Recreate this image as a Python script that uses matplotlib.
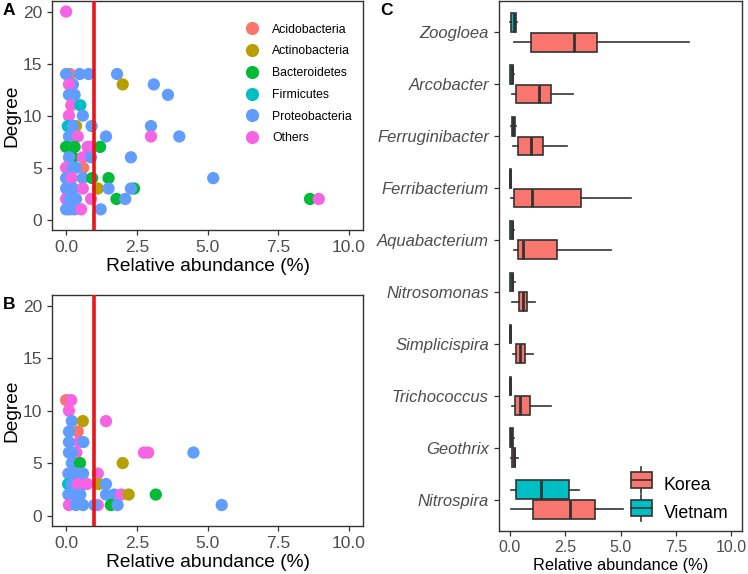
import matplotlib
matplotlib.use("Agg")
import matplotlib.pyplot as plt
from matplotlib.lines import Line2D
from matplotlib.patches import Rectangle
from matplotlib.legend_handler import HandlerBase

plt.rcParams['font.family'] = ['Liberation Sans', 'DejaVu Sans']

# phylum colours (ggplot hue)
phyla = ["Acidobacteria", "Actinobacteria", "Bacteroidetes", "Firmicutes", "Proteobacteria", "Others"]
phylum_colors = ["#F8766D", "#B79F00", "#00BA38", "#00BFC4", "#619CFF", "#F564E3"]

# panel A: relative abundance, degree, phylum
a_abund = [0.0,
           0.13, 0.0, 0.48, 0.8, 1.8,
           0.24, 0.1, 2.0, 3.1,
           0.1, 0.3, 3.6,
           0.18, 0.5,
           0.1, 0.59,
           0.06, 0.35, 0.24, 0.9, 3.0,
           0.1, 0.41, 1.41, 3.0, 4.0,
           0.0, 0.3, 0.76, 0.85, 1.2,
           0.24, 0.1, 0.59, 0.88, 2.29,
           0.0, 0.6, 0.24, 0.34,
           0.0, 0.2, 0.59, 0.92, 1.5, 5.2,
           0.0, 0.25, 0.59, 1.12, 2.4, 1.5, 2.29,
           0.0, 0.12, 0.35, 0.88, 1.78, 2.09, 8.62, 8.93,
           0.0, 0.12, 0.3, 0.53, 1.22]
a_degree = [20,
            14, 14, 14, 14, 14,
            13, 13, 13, 13,
            12, 12, 12,
            11, 11,
            10, 10,
            9, 9, 9, 9, 9,
            8, 8, 8, 8, 8,
            7, 7, 7, 7, 7,
            6, 6, 6, 6, 6,
            5, 5, 5, 5,
            4, 4, 4, 4, 4, 4,
            3, 3, 3, 3, 3, 3, 3,
            2, 2, 2, 2, 2, 2, 2, 2,
            1, 1, 1, 1, 1]
a_phylum = ["Others",
            "Acidobacteria", "Proteobacteria", "Proteobacteria", "Proteobacteria", "Proteobacteria",
            "Proteobacteria", "Others", "Actinobacteria", "Proteobacteria",
            "Proteobacteria", "Proteobacteria", "Proteobacteria",
            "Others", "Firmicutes",
            "Others", "Proteobacteria",
            "Firmicutes", "Actinobacteria", "Proteobacteria", "Proteobacteria", "Proteobacteria",
            "Proteobacteria", "Others", "Proteobacteria", "Others", "Proteobacteria",
            "Bacteroidetes", "Bacteroidetes", "Others", "Others", "Bacteroidetes",
            "Bacteroidetes", "Proteobacteria", "Others", "Proteobacteria", "Proteobacteria",
            "Others", "Acidobacteria", "Proteobacteria", "Proteobacteria",
            "Proteobacteria", "Others", "Proteobacteria", "Bacteroidetes", "Bacteroidetes", "Proteobacteria",
            "Proteobacteria", "Proteobacteria", "Others", "Actinobacteria", "Bacteroidetes", "Proteobacteria", "Proteobacteria",
            "Others", "Proteobacteria", "Proteobacteria", "Others", "Bacteroidetes", "Proteobacteria", "Bacteroidetes", "Others",
            "Proteobacteria", "Proteobacteria", "Proteobacteria", "Others", "Proteobacteria"]

# panel B
b_abund = [0.0, 0.18,
           0.1,
           0.2, 0.59, 1.41,
           0.41, 0.1,
           0.46, 0.1, 0.61,
           0.36, 0.1, 0.2, 2.75, 2.9, 4.5,
           0.2, 0.49, 2.0,
           0.08, 0.3, 0.6, 1.12, 0.45,
           0.07, 0.2, 0.6, 0.41, 0.74, 1.15, 1.41,
           0.08, 0.25, 0.5, 1.41, 1.7, 1.94, 2.21, 3.17,
           0.1, 0.35, 0.6, 1.12, 1.0, 1.58, 1.82, 5.5]
b_degree = [11, 11,
            10,
            9, 9, 9,
            8, 8,
            7, 7, 7,
            6, 6, 6, 6, 6, 6,
            5, 5, 5,
            4, 4, 4, 4, 4,
            3, 3, 3, 3, 3, 3, 3,
            2, 2, 2, 2, 2, 2, 2, 2,
            1, 1, 1, 1, 1, 1, 1, 1]
b_phylum = ["Acidobacteria", "Others",
            "Others",
            "Proteobacteria", "Actinobacteria", "Others",
            "Acidobacteria", "Proteobacteria",
            "Others", "Proteobacteria", "Proteobacteria",
            "Others", "Proteobacteria", "Proteobacteria", "Others", "Others", "Proteobacteria",
            "Proteobacteria", "Bacteroidetes", "Actinobacteria",
            "Proteobacteria", "Proteobacteria", "Proteobacteria", "Others", "Proteobacteria",
            "Firmicutes", "Proteobacteria", "Proteobacteria", "Others", "Others", "Actinobacteria", "Proteobacteria",
            "Proteobacteria", "Proteobacteria", "Proteobacteria", "Proteobacteria", "Proteobacteria", "Others", "Actinobacteria", "Bacteroidetes",
            "Others", "Proteobacteria", "Proteobacteria", "Others", "Proteobacteria", "Bacteroidetes", "Proteobacteria", "Proteobacteria"]

# panel C: genus boxplots (whisker low, q1, median, q3, whisker high), top to bottom
genera = ["Zoogloea", "Arcobacter", "Ferruginibacter", "Ferribacterium", "Aquabacterium",
          "Nitrosomonas", "Simplicispira", "Trichococcus", "Geothrix", "Nitrospira"]
korea_stats = [[0.21, 0.96, 2.88, 3.96, 8.09],
               [0.09, 0.27, 1.33, 1.84, 2.84],
               [0.13, 0.37, 0.94, 1.52, 2.57],
               [0.05, 0.18, 1.00, 3.22, 5.48],
               [0.18, 0.39, 0.58, 2.15, 4.55],
               [0.08, 0.40, 0.58, 0.79, 1.14],
               [0.15, 0.30, 0.48, 0.67, 1.05],
               [0.10, 0.25, 0.48, 0.91, 1.84],
               [0.05, 0.10, 0.20, 0.25, 0.36],
               [0.05, 1.05, 2.73, 3.84, 5.13]]
vietnam_stats = [[0.00, 0.06, 0.17, 0.27, 0.33],
                 [0.00, 0.02, 0.08, 0.15, 0.20],
                 [0.05, 0.10, 0.15, 0.22, 0.27],
                 [0.00, 0.01, 0.03, 0.05, 0.07],
                 [0.00, 0.03, 0.08, 0.15, 0.20],
                 [0.00, 0.03, 0.08, 0.15, 0.22],
                 [0.00, 0.01, 0.03, 0.05, 0.07],
                 [0.00, 0.01, 0.03, 0.05, 0.07],
                 [0.00, 0.03, 0.07, 0.13, 0.17],
                 [0.05, 0.27, 1.40, 2.67, 3.13]]
countries = ["Korea", "Vietnam"]
country_colors = ["#F8766D", "#00BFC4"]

threshold = 1.0

frame_col = "#333333"
tick_col = "#4D4D4D"

fig = plt.figure(figsize=(7.48, 5.74), dpi=100)
axA = fig.add_axes([0.0695, 0.599, 0.416, 0.399])
axB = fig.add_axes([0.0695, 0.0836, 0.416, 0.402])
axC = fig.add_axes([0.6667, 0.0754, 0.3257, 0.9226])


def style_axis(ax, fs=10.5):
    for s in ax.spines.values():
        s.set_color(frame_col)
        s.set_linewidth(1.0)
    ax.tick_params(colors=frame_col, labelcolor=tick_col, labelsize=fs, length=3.5, width=0.9)


def scatter_panel(ax, abund, degree, phylum):
    cmap = dict(zip(phyla, phylum_colors))
    ax.scatter(abund, degree, c=[cmap[p] for p in phylum], s=78, linewidths=0, zorder=3)
    ax.axvline(threshold, color="#E8161B", lw=2.6, zorder=4)
    ax.set_xlim(-0.5, 10.5)
    ax.set_ylim(-1, 21)
    ax.set_xticks([0, 2.5, 5, 7.5, 10])
    ax.set_xticklabels(["0.0", "2.5", "5.0", "7.5", "10.0"])
    ax.set_yticks([0, 5, 10, 15, 20])
    ax.set_xlabel("Relative abundance (%)", fontsize=13.8, labelpad=2)
    ax.set_ylabel("Degree", fontsize=13.8, labelpad=2)
    style_axis(ax, 12.5)


scatter_panel(axA, a_abund, a_degree, a_phylum)
scatter_panel(axB, b_abund, b_degree, b_phylum)

fig.text(0.004, 0.995, "A", fontsize=12.5, fontweight="bold", va="top", ha="left")
fig.text(0.004, 0.483, "B", fontsize=12.5, fontweight="bold", va="top", ha="left")
fig.text(0.509, 0.995, "C", fontsize=12.5, fontweight="bold", va="top", ha="left")

handles = [Line2D([], [], marker="o", ls="", color=c, markersize=9.5, markeredgewidth=0)
           for c in phylum_colors]
axA.legend(handles, phyla, loc="upper right", bbox_to_anchor=(1.0, 0.95), frameon=False,
           fontsize=8.8, handletextpad=0.7, labelspacing=0.8, borderaxespad=0.5)

# panel C
n = len(genera)
pos = [n - i for i in range(n)]
offsets = [-0.19, 0.19]
for stats_all, off, col in zip([korea_stats, vietnam_stats], offsets, country_colors):
    bstats = [dict(whislo=s[0], q1=s[1], med=s[2], q3=s[3], whishi=s[4], fliers=[])
              for s in stats_all]
    axC.bxp(bstats, positions=[p + off for p in pos], widths=0.36, vert=False,
            patch_artist=True, showcaps=False, manage_ticks=False,
            boxprops=dict(facecolor=col, edgecolor=frame_col, linewidth=1.2),
            medianprops=dict(color=frame_col, linewidth=2.0),
            whiskerprops=dict(color=frame_col, linewidth=1.2))
axC.set_ylim(0.4, n + 0.6)
axC.set_yticks(pos)
axC.set_yticklabels(genera, fontstyle="italic", fontsize=12)
axC.set_xlim(-0.5, 10.5)
axC.set_xticks([0, 2.5, 5, 7.5, 10])
axC.set_xticklabels(["0.0", "2.5", "5.0", "7.5", "10.0"])
style_axis(axC, 11.5)
axC.tick_params(axis="y", labelsize=12)
axC.set_xlabel("Relative abundance (%)", fontsize=11.8, labelpad=2)


class BoxKey(HandlerBase):
    def create_artists(self, legend, orig_handle, xd, yd, width, height, fontsize, trans):
        cx = xd + width / 2
        bw = width * 0.8
        top = yd + height * 1.3
        bot = yd - height * 0.3
        rect = Rectangle((cx - bw / 2, yd), bw, height, facecolor=orig_handle.get_facecolor(),
                         edgecolor=frame_col, lw=1.2, transform=trans)
        med = Line2D([cx - bw / 2, cx + bw / 2], [yd + height / 2] * 2, color=frame_col, lw=1.2, transform=trans)
        w1 = Line2D([cx, cx], [yd + height, top], color=frame_col, lw=1.2, transform=trans)
        w2 = Line2D([cx, cx], [bot, yd], color=frame_col, lw=1.2, transform=trans)
        return [w1, w2, rect, med]


keys = [Rectangle((0, 0), 1, 1, facecolor=c) for c in country_colors]
axC.legend(keys, countries, loc="lower right", frameon=False, fontsize=12.8,
           handler_map={Rectangle: BoxKey()}, handlelength=1.5, handleheight=1.0,
           labelspacing=0.55, bbox_to_anchor=(1.0, -0.01), borderaxespad=0.4,
           handletextpad=0.5)

fig.savefig("out.png", dpi=100)
